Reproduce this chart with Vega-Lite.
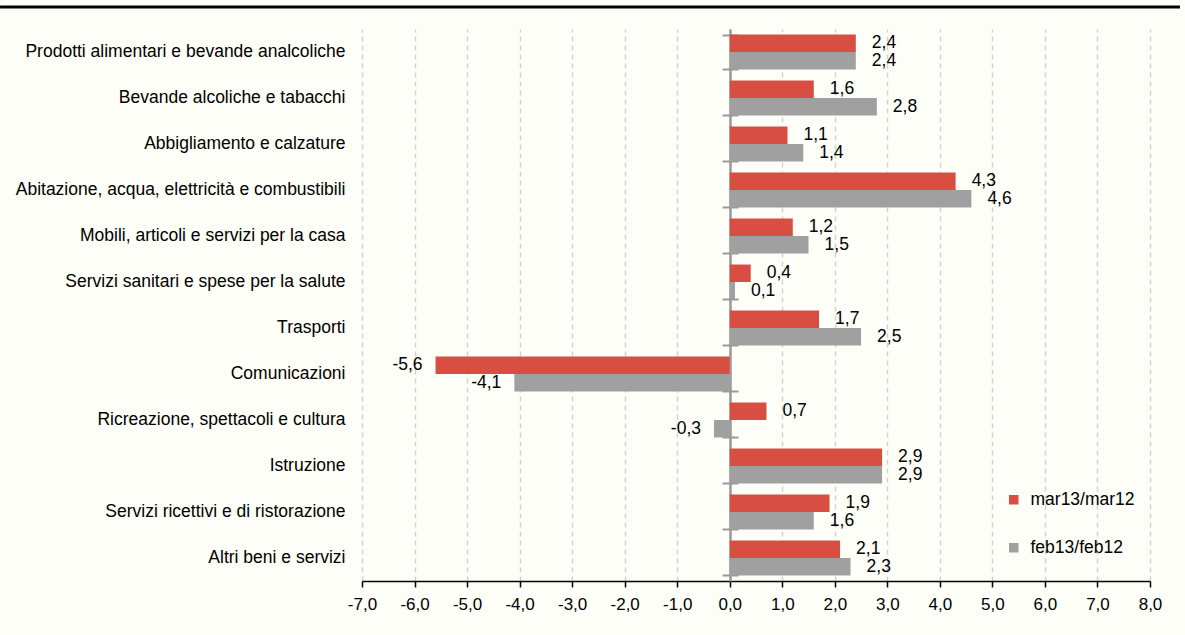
{
  "$schema": "https://vega.github.io/schema/vega-lite/v6.json",
  "width": 788,
  "height": 552,
  "autosize": "none",
  "padding": {"left": 362, "top": 29, "right": 35, "bottom": 54},
  "background": "#fefef8",
  "config": {
    "locale": {"number": {"decimal": ",", "thousands": ".", "grouping": [3], "currency": ["", " €"], "minus": "-"}},
    "view": {"stroke": null},
    "font": "Liberation Sans, Arial, sans-serif",
    "axisX": {
      "values": [-7, -6, -5, -4, -3, -2, -1, 0, 1, 2, 3, 4, 5, 6, 7, 8],
      "format": ".1f",
      "labelFontSize": 17,
      "labelColor": "black",
      "labelFlush": false,
      "labelOverlap": false,
      "domainColor": "black",
      "domainWidth": 1.5,
      "tickColor": "black",
      "tickSize": 6,
      "tickWidth": 1.5,
      "grid": true,
      "gridDash": [5, 4],
      "gridColor": "#d2d2d2",
      "gridWidth": 1.5,
      "labelPadding": 9
    }
  },
  "datasets": {
    "d": [
      {"cat": "Prodotti alimentari e bevande analcoliche", "series": "mar13/mar12", "value": 2.4},
      {"cat": "Prodotti alimentari e bevande analcoliche", "series": "feb13/feb12", "value": 2.4},
      {"cat": "Bevande alcoliche e tabacchi", "series": "mar13/mar12", "value": 1.6},
      {"cat": "Bevande alcoliche e tabacchi", "series": "feb13/feb12", "value": 2.8},
      {"cat": "Abbigliamento e calzature", "series": "mar13/mar12", "value": 1.1},
      {"cat": "Abbigliamento e calzature", "series": "feb13/feb12", "value": 1.4},
      {"cat": "Abitazione, acqua, elettricità e combustibili", "series": "mar13/mar12", "value": 4.3},
      {"cat": "Abitazione, acqua, elettricità e combustibili", "series": "feb13/feb12", "value": 4.6},
      {"cat": "Mobili, articoli e servizi per la casa", "series": "mar13/mar12", "value": 1.2},
      {"cat": "Mobili, articoli e servizi per la casa", "series": "feb13/feb12", "value": 1.5},
      {"cat": "Servizi sanitari e spese per la salute", "series": "mar13/mar12", "value": 0.4},
      {"cat": "Servizi sanitari e spese per la salute", "series": "feb13/feb12", "value": 0.1},
      {"cat": "Trasporti", "series": "mar13/mar12", "value": 1.7},
      {"cat": "Trasporti", "series": "feb13/feb12", "value": 2.5},
      {"cat": "Comunicazioni", "series": "mar13/mar12", "value": -5.6},
      {"cat": "Comunicazioni", "series": "feb13/feb12", "value": -4.1},
      {"cat": "Ricreazione, spettacoli e cultura", "series": "mar13/mar12", "value": 0.7},
      {"cat": "Ricreazione, spettacoli e cultura", "series": "feb13/feb12", "value": -0.3},
      {"cat": "Istruzione", "series": "mar13/mar12", "value": 2.9},
      {"cat": "Istruzione", "series": "feb13/feb12", "value": 2.9},
      {"cat": "Servizi ricettivi e di ristorazione", "series": "mar13/mar12", "value": 1.9},
      {"cat": "Servizi ricettivi e di ristorazione", "series": "feb13/feb12", "value": 1.6},
      {"cat": "Altri beni e servizi", "series": "mar13/mar12", "value": 2.1},
      {"cat": "Altri beni e servizi", "series": "feb13/feb12", "value": 2.3}
    ]
  },
  "layer": [
    {
      "data": {"name": "d"},
      "layer": [
        {
          "mark": {"type": "bar"},
          "encoding": {
            "x": {"field": "value", "type": "quantitative", "scale": {"domain": [-7, 8], "nice": false}, "title": null},
            "y": {
              "field": "cat", "type": "nominal", "sort": null, "title": null,
              "scale": {
                "domain": ["Prodotti alimentari e bevande analcoliche", "Bevande alcoliche e tabacchi", "Abbigliamento e calzature", "Abitazione, acqua, elettricità e combustibili", "Mobili, articoli e servizi per la casa", "Servizi sanitari e spese per la salute", "Trasporti", "Comunicazioni", "Ricreazione, spettacoli e cultura", "Istruzione", "Servizi ricettivi e di ristorazione", "Altri beni e servizi"],
                "paddingInner": 0.24, "paddingOuter": 0.12
              },
              "axis": {"orient": "left", "domain": false, "ticks": false, "grid": false, "labelFontSize": 17.5, "labelColor": "black", "labelPadding": 17, "labelLimit": 400}
            },
            "yOffset": {"field": "series", "type": "nominal", "scale": {"domain": ["mar13/mar12", "feb13/feb12"]}},
            "color": {
              "field": "series", "type": "nominal",
              "scale": {"domain": ["mar13/mar12", "feb13/feb12"], "range": ["#d94e42", "#a0a0a0"]},
              "legend": {"orient": "none", "legendX": 643, "legendY": 462, "title": null, "symbolType": "square", "symbolSize": 90, "symbolStrokeWidth": 0, "labelFontSize": 17.5, "labelColor": "black", "rowPadding": 29, "labelOffset": 8, "padding": 0}
            }
          }
        },
        {
          "transform": [{"filter": "datum.value >= 0"}],
          "mark": {"type": "text", "align": "left", "dx": 16, "fontSize": 17.5, "color": "black"},
          "encoding": {
            "x": {"field": "value", "type": "quantitative", "title": null},
            "y": {
              "field": "cat", "type": "nominal", "sort": null, "title": null,
              "axis": {"orient": "left", "offset": -368, "labels": false, "domain": true, "domainColor": "#999999", "domainWidth": 2.5, "ticks": true, "tickBand": "extent", "tickSize": 8, "tickColor": "#999999", "tickWidth": 2, "grid": false}
            },
            "yOffset": {"field": "series", "type": "nominal"},
            "text": {"field": "value", "type": "quantitative", "format": ".1f"}
          }
        },
        {
          "transform": [{"filter": "datum.value < 0"}],
          "mark": {"type": "text", "align": "right", "dx": -13, "fontSize": 17.5, "color": "black"},
          "encoding": {
            "x": {"field": "value", "type": "quantitative", "title": null},
            "y": {
              "field": "cat", "type": "nominal", "sort": null, "title": null,
              "axis": {"orient": "right", "offset": -420, "labels": false, "domain": false, "ticks": true, "tickBand": "extent", "tickSize": 8, "tickColor": "#999999", "tickWidth": 2, "grid": false}
            },
            "yOffset": {"field": "series", "type": "nominal"},
            "text": {"field": "value", "type": "quantitative", "format": ".1f"}
          }
        }
      ],
      "resolve": {"axis": {"y": "independent"}}
    },
    {
      "data": {"values": [{}]},
      "mark": {"type": "rule", "color": "black", "strokeWidth": 3},
      "encoding": {
        "x": {"datum": -13.89, "type": "quantitative", "scale": {"domain": [-7, 8], "nice": false}, "title": null},
        "x2": {"datum": 8.57},
        "y": {"datum": 1.04, "type": "quantitative", "scale": {"domain": [0, 1], "nice": false, "zero": false}, "axis": null}
      }
    }
  ],
  "resolve": {"scale": {"y": "independent"}, "axis": {"y": "independent"}}
}
